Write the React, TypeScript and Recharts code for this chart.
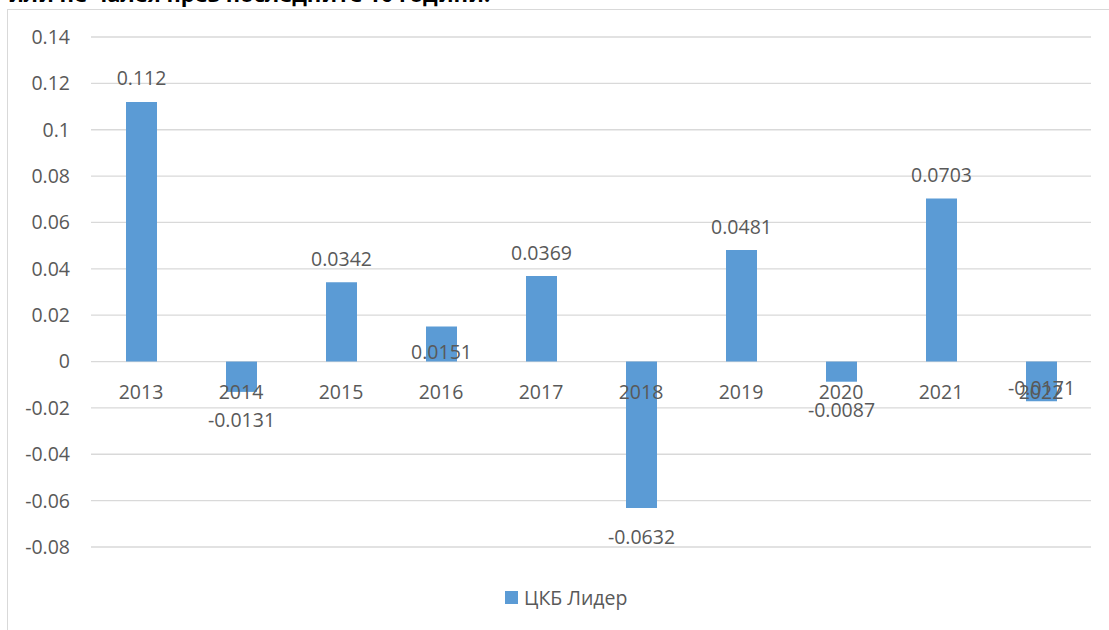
import React from "react";
import { BarChart, Bar, XAxis, YAxis, CartesianGrid, LabelList } from "recharts";

const categories = ["2013", "2014", "2015", "2016", "2017", "2018", "2019", "2020", "2021", "2022"];
const values = [0.112, -0.0131, 0.0342, 0.0151, 0.0369, -0.0632, 0.0481, -0.0087, 0.0703, -0.0171];
const labelPlacement = ["outside", "outside", "outside", "insideBase", "outside", "outside", "outside", "outside", "outside", "insideEnd"];
const yTicks = [0.14, 0.12, 0.1, 0.08, 0.06, 0.04, 0.02, 0, -0.02, -0.04, -0.06, -0.08];
const seriesName = "ЦКБ Лидер";
const titleText = "или не чалея през последните 10 години.";

const data = categories.map((c, i) => ({ year: c, value: values[i] }));

const W = 1109;
const H = 630;
const M_TOP = 37;
const M_BOTTOM = 53;
const X_AXIS_H = 30;
const PLOT_H = H - M_TOP - M_BOTTOM - X_AXIS_H;
const D_MAX = 0.14;
const D_MIN = -0.08;
const ZERO_Y = M_TOP + (PLOT_H * D_MAX) / (D_MAX - D_MIN);
const FONT = "'Open Sans', sans-serif";
const FS = 19.5;
const TEXT = "#595959";
const BLUE = "#5b9bd5";

const fmt = (v: number) => String(+v.toFixed(4));

const XTick = (props: any) => {
  const { x, payload } = props;
  return (
    <text x={x} y={ZERO_Y + 30} textAnchor="middle" dominantBaseline="central" fill={TEXT} fontSize={FS} fontFamily={FONT}>
      {payload.value}
    </text>
  );
};

const BarLabel = (props: any) => {
  const { x, y, width, height, index, value } = props;
  const top = Math.min(y, y + height);
  const bottom = Math.max(y, y + height);
  const cx = x + width / 2;
  const place = labelPlacement[index];
  let cy: number;
  if (place === "insideBase") cy = bottom - 10;
  else if (place === "insideEnd") cy = bottom - 14;
  else cy = value >= 0 ? top - 24 : bottom + 28;
  return (
    <text x={cx} y={cy} textAnchor="middle" dominantBaseline="central" fill={TEXT} fontSize={FS} fontFamily={FONT}>
      {fmt(value)}
    </text>
  );
};

export default function App() {
  return (
    <div style={{ position: "absolute", left: 0, top: 0, width: W, height: H, overflow: "hidden", background: "#fff" }}>
      <div
        style={{
          position: "absolute",
          left: 8,
          top: -22,
          fontFamily: FONT,
          fontWeight: 700,
          fontSize: 22,
          color: "#000",
          whiteSpace: "nowrap",
        }}
      >
        {titleText}
      </div>
      <div
        style={{
          position: "absolute",
          left: 7,
          top: 9,
          width: W + 20,
          height: H + 20,
          border: "1px solid #d9d9d9",
          boxSizing: "border-box",
        }}
      />
      <div style={{ position: "absolute", left: 0, top: 0 }}>
        <BarChart width={W} height={H} data={data} margin={{ top: M_TOP, right: 18, left: 0, bottom: M_BOTTOM }}>
          <CartesianGrid vertical={false} stroke="#d9d9d9" strokeWidth={1.3} />
          <YAxis
            width={91}
            domain={[D_MIN, D_MAX]}
            ticks={yTicks}
            interval={0}
            axisLine={false}
            tickLine={false}
            tickSize={0}
            tickMargin={21}
            tickFormatter={(v: number) => String(+v.toFixed(2))}
            tick={{ fill: TEXT, fontSize: FS, fontFamily: FONT }}
          />
          <XAxis dataKey="year" height={X_AXIS_H} axisLine={false} tickLine={false} interval={0} tick={<XTick />} />
          <Bar dataKey="value" name={seriesName} fill={BLUE} barSize={31} isAnimationActive={false}>
            <LabelList dataKey="value" content={<BarLabel />} />
          </Bar>
        </BarChart>
      </div>
      <div
        style={{
          position: "absolute",
          left: 505,
          top: 584,
          display: "flex",
          alignItems: "center",
          fontFamily: FONT,
          fontSize: FS,
          color: TEXT,
          whiteSpace: "nowrap",
        }}
      >
        <span style={{ display: "inline-block", width: 13, height: 13, background: BLUE, marginRight: 6 }} />
        <span>{seriesName}</span>
      </div>
    </div>
  );
}
